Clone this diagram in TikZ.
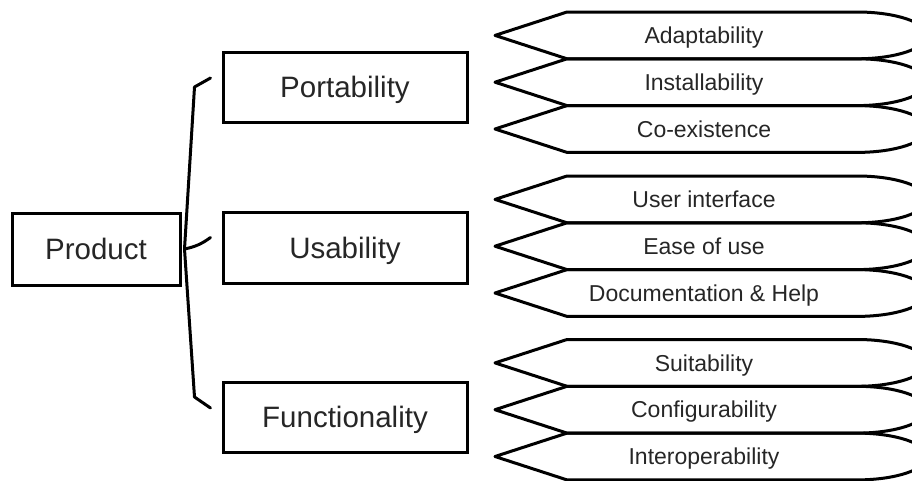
\documentclass[tikz,border=0pt]{standalone}
\usepackage{fontspec}
\setmainfont{Liberation Sans}
\tikzset{
    every node/.style = {text=black!85},
    box/.style = {draw, line width=3pt, inner sep=0pt, font=\fontsize{29.5}{33}\selectfont, text height=21pt, text depth=0pt},
    tag/.style = {draw, line width=3pt, line join=round},
    tagtext/.style = {font=\fontsize{23}{27}\selectfont, text height=16.5pt, text depth=0pt},
    link/.style = {line width=3pt, line cap=round, line join=round}
}

\begin{document}
\begin{tikzpicture}[x=1pt, y=-1pt]
    \useasboundingbox (0,0) rectangle (912,480);
    % main boxes
    \node[box, minimum width=168pt, minimum height=72pt] (prod) at (96,249) {Product};
    \node[box, minimum width=244pt, minimum height=70pt] (port) at (345,87) {Portability};
    \node[box, minimum width=244pt, minimum height=71pt] (usab) at (345,247.5) {Usability};
    \node[box, minimum width=244pt, minimum height=70pt] (func) at (345,417) {Functionality};
    % brace from product to the three groups
    \coordinate (fork) at ([xshift=3pt]prod.east);
    \draw[link] ([xshift=-11pt,yshift=9pt]port.west) -- ++(-16,9) -- (fork)
        -- ([xshift=-27pt,yshift=20pt]func.west) -- ([xshift=-11pt,yshift=9pt]func.west);
    \draw[link] ([xshift=-11pt,yshift=10pt]usab.west) to[bend left=12] (fork);
    % sub-characteristics
    \foreach \top/\name/\txt in {12/adapt/Adaptability, 58.8/install/Installability, 105.6/coexist/Co-existence,
            176/usrif/User interface, 222.8/ease/Ease of use, 269.6/docs/Documentation \& Help,
            339.5/suit/Suitability, 386.3/config/Configurability, 433.1/interop/Interoperability}{
        \draw[tag] (495,\top+23.4) -- ++(72,-23.4) -- ++(290,0)
            arc[start angle=-90, end angle=90, x radius=70, y radius=23.4] -- ++(-290,0) -- cycle;
        \node[tagtext] (\name) at (704,\top+23.4) {\txt};
    }
\end{tikzpicture}
\end{document}
